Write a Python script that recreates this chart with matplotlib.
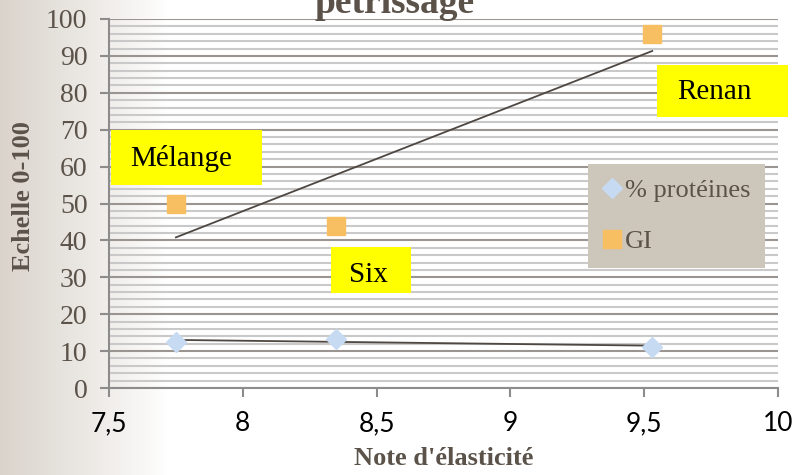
import numpy as np
import matplotlib.pyplot as plt
from matplotlib.patches import Rectangle

# values
elasticite = [7.75, 8.35, 9.53]
proteines = [12.5, 13.3, 11.2]
gi = [50, 44, 96]
varietes = ["Mélange", "Six", "Renan"]

txt_col = "#5b5249"
serif = ["Liberation Serif", "DejaVu Serif"]

fig = plt.figure(figsize=(7.94, 4.75), dpi=100)

# pale beige gradient on the left edge
bg = fig.add_axes([0, 0, 1, 1], zorder=-10)
xs = np.linspace(0, 1, 794)
fade = np.clip(1 - xs / 0.21, 0, 1) ** 0.9
base = np.array([0.855, 0.83, 0.80])
row = 1 - fade[:, None] * (1 - base[None, :])
bg.imshow(row[None, :, :], aspect="auto", extent=[0, 1, 0, 1])
bg.axis("off")

ax = fig.add_axes([109 / 794, 1 - 388 / 475, 669 / 794, 369 / 475])
ax.set_facecolor("none")
ax.set_xlim(7.5, 10)
ax.set_ylim(0, 100)
ax.set_xticks(np.arange(7.5, 10.01, 0.5))
ax.set_xticklabels(["7,5", "8", "8,5", "9", "9,5", "10"], fontfamily="Lato",
                   fontsize=19, color="black")
ax.set_yticks(np.arange(0, 101, 10))
ax.set_yticks(np.arange(0, 101, 2), minor=True)
ax.set_yticklabels([str(v) for v in range(0, 101, 10)], fontfamily=serif,
                   fontsize=20, color=txt_col)
ax.grid(axis="y", which="major", color="#9a9590", lw=1.5, zorder=0)
ax.grid(axis="y", which="minor", color="#c9c9c9", lw=1.5, zorder=0)
ax.tick_params(axis="both", which="major", direction="out", length=6.5,
               width=1.5, color="#8c8c8c")
ax.tick_params(axis="y", which="minor", length=0)
ax.tick_params(axis="y", pad=9)
ax.tick_params(axis="x", pad=10)
for s in ["top", "right"]:
    ax.spines[s].set_visible(False)
for s in ["left", "bottom"]:
    ax.spines[s].set_color("#8c8c8c")
    ax.spines[s].set_linewidth(1.5)

# linear trend lines
for ys in (proteines, gi):
    a, b = np.polyfit(elasticite, ys, 1)
    xx = np.array([min(elasticite), max(elasticite)])
    ax.plot(xx, a * xx + b, color="#4f4741", lw=1.3, zorder=3)

ax.plot(elasticite, proteines, ls="none", marker="D", ms=10.5,
        color="#c6daf1", label="% protéines", zorder=4)
ax.plot(elasticite, gi, ls="none", marker="s", ms=13.5,
        color="#f8bf62", label="GI", zorder=4)

# yellow variety labels
boxes = [(7.507, 55.0, 0.565, 14.9, 7.769, 62.3),
         (8.330, 25.7, 0.299, 12.5, 8.470, 30.6),
         (9.548, 73.4, 0.489, 14.1, 9.761, 80.2)]
for name, (bx, by, bw, bh, tx, ty) in zip(varietes, boxes):
    ax.add_patch(Rectangle((bx, by), bw, bh, facecolor="#ffff00",
                           edgecolor="none", zorder=5, clip_on=False))
    ax.text(tx, ty, name, ha="center", va="center", fontfamily=serif,
            fontsize=21, color="black", zorder=6)

leg = ax.legend(loc="upper left", bbox_to_anchor=((588 - 109) / 669, (388 - 164) / 369),
                prop={"family": serif, "size": 19}, facecolor="#cdc6ba",
                edgecolor="none", framealpha=1, fancybox=False,
                handlelength=0.7, handletextpad=0.15, borderpad=0.55,
                labelspacing=1.05, borderaxespad=0)
for t in leg.get_texts():
    t.set_color(txt_col)

ax.set_xlabel("Note d'élasticité", fontfamily=serif, fontsize=19,
              fontweight="bold", color=txt_col, labelpad=8)
ax.set_ylabel("Echelle 0-100", fontfamily=serif, fontsize=19,
              fontweight="bold", color=txt_col, labelpad=10)
ax.yaxis.set_label_coords(-0.11, 0.52)

fig.text(0.497, 1 - 13 / 475, "pétrissage", ha="center", va="baseline",
         fontfamily=serif, fontsize=27, fontweight="bold", color=txt_col)

fig.savefig("out.png", dpi=100)
